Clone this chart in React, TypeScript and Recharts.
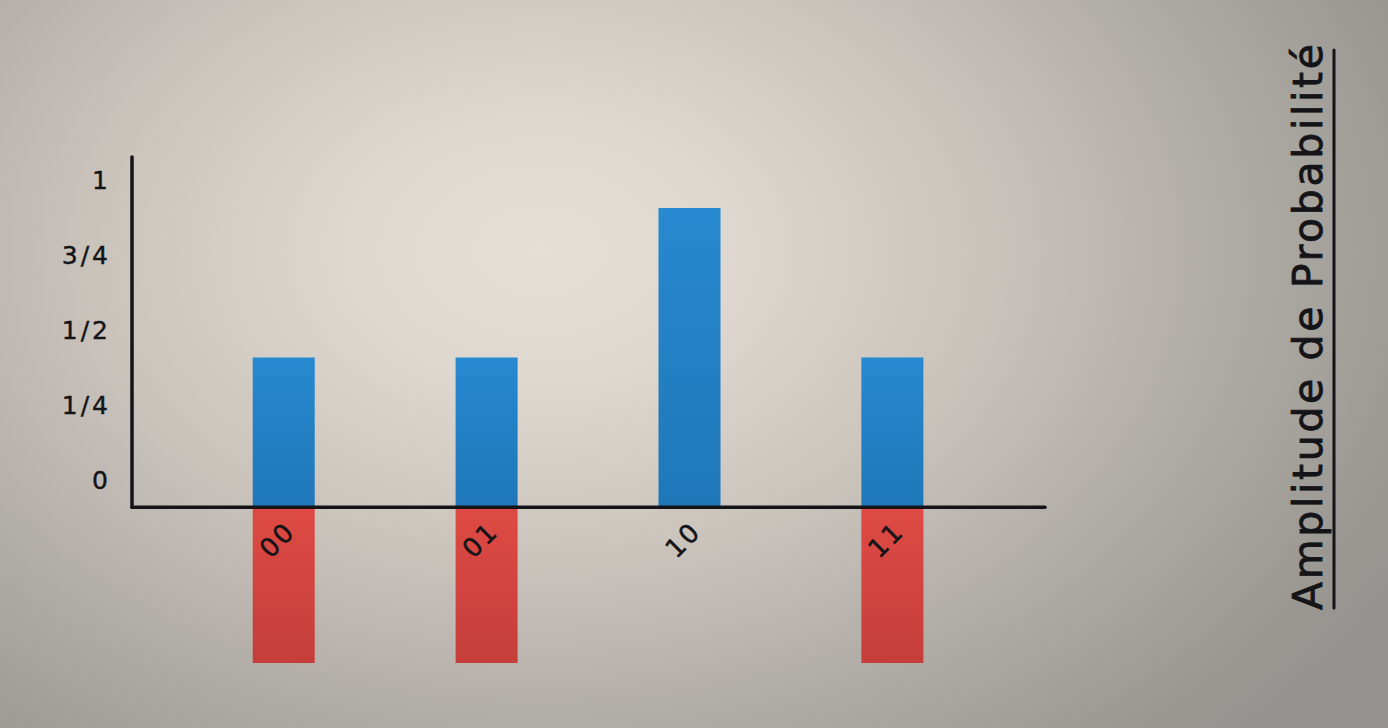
import React from 'react';
import { BarChart, Bar, XAxis, YAxis, ReferenceLine } from 'recharts';

const categories = ['00', '01', '10', '11'];
const positiveAmplitudes = [0.5, 0.5, 1.0, 0.5];
const negativeAmplitudes = [-0.52, -0.52, 0, -0.52];
const yTicks = [0, 0.25, 0.5, 0.75, 1];
const yTickLabels = ['0', '1/4', '1/2', '3/4', '1'];
const xTicks = [0, 1, 2, 3];
const title = 'Amplitude de Probabilité';

const data = categories.map((c, i) => ({
  idx: i,
  label: c,
  pos: positiveAmplitudes[i],
  neg: negativeAmplitudes[i],
}));

const FONT = '"DejaVu Sans", sans-serif';
const INK = '#141418';

const YTick = (props: any) => {
  const { x, y, payload } = props;
  const i = yTicks.indexOf(payload.value);
  return (
    <text
      x={x}
      y={y - 27}
      textAnchor="end"
      dominantBaseline="central"
      fontFamily={FONT}
      fontSize={25}
      letterSpacing={3}
      fill={INK}
      stroke={INK}
      strokeWidth={0.4}
    >
      {i >= 0 ? yTickLabels[i] : ''}
    </text>
  );
};

const XTick = (props: any) => {
  const { x, y, payload } = props;
  const label = categories[payload.value] ?? '';
  return (
    <text
      transform={`translate(${x - 7}, ${y - 123}) rotate(-45)`}
      textAnchor="middle"
      dominantBaseline="central"
      fontFamily={FONT}
      fontSize={26}
      letterSpacing={2}
      fill={INK}
      stroke={INK}
      strokeWidth={0.5}
    >
      {label}
    </text>
  );
};

export default function App() {
  return (
    <div
      style={{
        position: 'absolute',
        left: 0,
        top: 0,
        width: 1388,
        height: 728,
        overflow: 'hidden',
        background:
          'radial-gradient(ellipse 1000px 700px at 540px 250px, #e6dfd6 0%, #ddd7cf 20%, #c9c3bc 45%, #aeaaa4 70%, #9b9893 90%, #959290 100%)',
      }}
    >
      <div style={{ position: 'absolute', left: 0, top: 0 }}>
        <BarChart
          width={1388}
          height={728}
          data={data}
          stackOffset="sign"
          margin={{ top: 157, right: 343, left: 0, bottom: 35 }}
        >
          <defs>
            <linearGradient id="blueGrad" x1="0" y1="0" x2="0" y2="1">
              <stop offset="0%" stopColor="#2789cf" />
              <stop offset="100%" stopColor="#1f77b8" />
            </linearGradient>
            <linearGradient id="redGrad" x1="0" y1="0" x2="0" y2="1">
              <stop offset="0%" stopColor="#df4a44" />
              <stop offset="100%" stopColor="#c43e3a" />
            </linearGradient>
          </defs>
          <YAxis
            type="number"
            domain={[-0.52, 1.17]}
            allowDataOverflow
            ticks={yTicks}
            width={132}
            axisLine={false}
            tickLine={false}
            tickSize={0}
            tickMargin={21}
            tick={<YTick />}
            interval={0}
          />
          <Bar dataKey="pos" stackId="a" fill="url(#blueGrad)" barSize={62} isAnimationActive={false} />
          <Bar dataKey="neg" stackId="a" fill="url(#redGrad)" barSize={62} isAnimationActive={false} />
          <ReferenceLine
            segment={[
              { x: -0.75, y: 0 },
              { x: -0.75, y: 1.17 },
            ]}
            stroke={INK}
            strokeWidth={3.5}
            strokeLinecap="round"
          />
          <ReferenceLine y={0} stroke={INK} strokeWidth={3.5} strokeLinecap="round" />
          <XAxis
            dataKey="idx"
            type="number"
            domain={[-0.75, 3.75]}
            allowDataOverflow
            ticks={xTicks}
            interval={0}
            height={30}
            axisLine={false}
            tickLine={false}
            tickSize={0}
            tickMargin={0}
            tick={<XTick />}
          />
        </BarChart>
      </div>
      <svg
        width={1388}
        height={728}
        style={{ position: 'absolute', left: 0, top: 0, pointerEvents: 'none' }}
      >
        <text
          transform="translate(1322, 610) rotate(-90)"
          fontFamily={FONT}
          fontSize={41}
          textLength={566}
          lengthAdjust="spacing"
          fill={INK}
          stroke={INK}
          strokeWidth={0.8}
        >
          {title}
        </text>
        <line x1={1334} y1={50} x2={1334} y2={608} stroke={INK} strokeWidth={3} strokeLinecap="round" />
      </svg>
    </div>
  );
}
